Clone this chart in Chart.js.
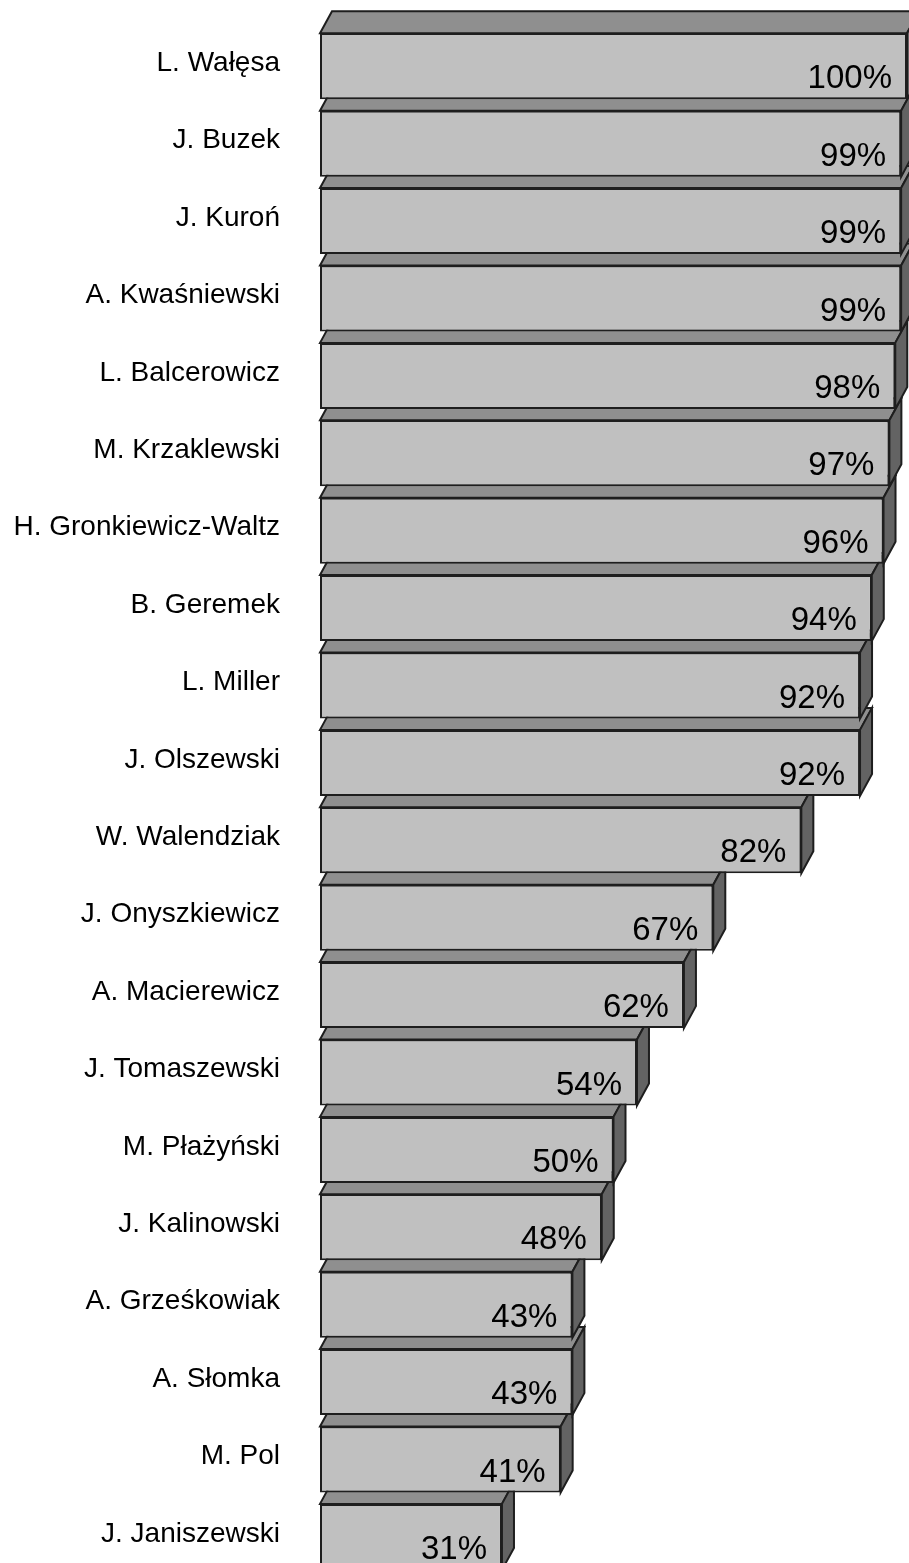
<!DOCTYPE html>
<html>
<head>
<meta charset="utf-8">
<script src="https://cdn.jsdelivr.net/npm/chart.js@4.4.1/dist/chart.umd.min.js"></script>
<style>
  html, body { margin: 0; padding: 0; background: #fff; overflow: hidden; }
  .wrap { position: relative; width: 909px; height: 1600px; }
</style>
</head>
<body>
<div class="wrap"><canvas id="chart"></canvas></div>
<script>
const names = [
    'L. Wałęsa', 'J. Buzek', 'J. Kuroń', 'A. Kwaśniewski', 'L. Balcerowicz',
    'M. Krzaklewski', 'H. Gronkiewicz-Waltz', 'B. Geremek', 'L. Miller', 'J. Olszewski',
    'W. Walendziak', 'J. Onyszkiewicz', 'A. Macierewicz', 'J. Tomaszewski', 'M. Płażyński',
    'J. Kalinowski', 'A. Grześkowiak', 'A. Słomka', 'M. Pol', 'J. Janiszewski'
];
const percents = [100, 99, 99, 99, 98, 97, 96, 94, 92, 92, 82, 67, 62, 54, 50, 48, 43, 43, 41, 31];

const FONT = "'Liberation Sans', Arial, sans-serif";
const depthX = 12;
const depthY = 22;

// top and side faces of the 3d bars, painted bottom row first
const boxFaces = {
    id: 'boxFaces',
    beforeDatasetsDraw(chart) {
        const ctx = chart.ctx;
        const meta = chart.getDatasetMeta(0);
        ctx.save();
        ctx.lineWidth = 2;
        ctx.strokeStyle = '#1e1e1e';
        ctx.lineJoin = 'miter';
        for (let i = meta.data.length - 1; i >= 0; i--) {
            const { x, y, base, height } = meta.data[i].getProps(['x', 'y', 'base', 'height'], true);
            const top = y - height / 2;
            const bottom = y + height / 2;

            ctx.beginPath();
            ctx.moveTo(base, top);
            ctx.lineTo(base + depthX, top - depthY);
            ctx.lineTo(x + depthX, top - depthY);
            ctx.lineTo(x, top);
            ctx.closePath();
            ctx.fillStyle = '#8f8f8f';
            ctx.fill();
            ctx.stroke();

            ctx.beginPath();
            ctx.moveTo(x, top);
            ctx.lineTo(x + depthX, top - depthY);
            ctx.lineTo(x + depthX, bottom - depthY);
            ctx.lineTo(x, bottom);
            ctx.closePath();
            ctx.fillStyle = '#636363';
            ctx.fill();
            ctx.stroke();
        }
        ctx.restore();
    },
    afterDatasetsDraw(chart) {
        const ctx = chart.ctx;
        const meta = chart.getDatasetMeta(0);
        ctx.save();
        ctx.font = '33px ' + FONT;
        ctx.fillStyle = '#000';
        ctx.textAlign = 'right';
        ctx.textBaseline = 'alphabetic';
        meta.data.forEach((bar, i) => {
            const { x, y, height } = bar.getProps(['x', 'y', 'height'], true);
            ctx.fillText(percents[i] + '%', x - 15, y + height / 2 - 11);
        });
        ctx.restore();
    }
};

new Chart(document.getElementById('chart'), {
    type: 'bar',
    data: {
        labels: names,
        datasets: [{
            data: percents,
            backgroundColor: '#c0c0c0',
            borderColor: '#1e1e1e',
            borderWidth: 2,
            borderSkipped: false,
            categoryPercentage: 1,
            barPercentage: 0.853
        }]
    },
    options: {
        indexAxis: 'y',
        responsive: true,
        maintainAspectRatio: false,
        animation: false,
        layout: { padding: { top: 27.6, bottom: 24.4, left: 0, right: 2 } },
        plugins: {
            legend: { display: false },
            tooltip: { enabled: false }
        },
        scales: {
            x: {
                display: false,
                min: 0,
                max: 100
            },
            y: {
                grid: { display: false, drawTicks: false },
                border: { display: false },
                ticks: {
                    color: '#000',
                    padding: 40,
                    labelOffset: -3,
                    font: { family: FONT, size: 28 }
                },
                afterFit(scale) {
                    scale.width = 320;
                    scale.paddingTop = 0;
                    scale.paddingBottom = 0;
                }
            }
        }
    },
    plugins: [boxFaces]
});
</script>
</body>
</html>
